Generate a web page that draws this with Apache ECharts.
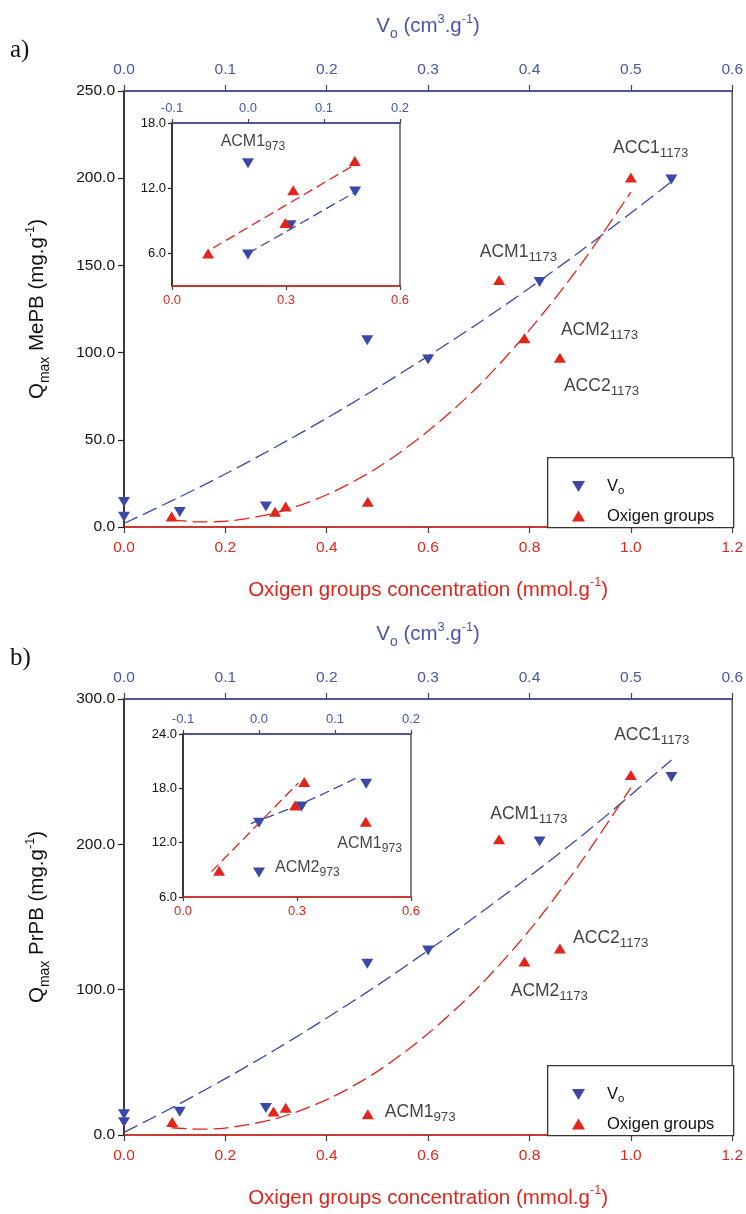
<!DOCTYPE html>
<html>
<head>
<meta charset="utf-8">
<script src="https://cdn.jsdelivr.net/npm/echarts@6/dist/echarts.min.js"></script>
<style>
html,body{margin:0;padding:0;background:#fff;}
#chart{width:746px;height:1214px;}
</style>
</head>
<body>
<div id="chart"></div>
<script>
// ---------------- DATA ----------------
// Panel a (MePB)
const voA   = [0, 0, 0.055, 0.14, 0.24, 0.30, 0.41, 0.54];
const qVoA  = [14.3, 5.9, 8.6, 11.7, 107.1, 96.0, 140.5, 199.2];
const oxA   = [0.094, 0.298, 0.319, 0.481, 0.74, 0.79, 0.86, 1.0];
const qOxA  = [6.0, 8.8, 11.8, 14.5, 141.7, 108.2, 97.1, 200.4];
// fitted curves
const fitVoAx = [0, 0.05, 0.10, 0.15, 0.20, 0.25, 0.30, 0.35, 0.40, 0.45, 0.50, 0.54];
const fitVoAy = [2, 15.8, 30.4, 46, 62.4, 79.8, 98, 117, 137, 158, 180, 198];
const fitOxAx = [0.094, 0.15, 0.2, 0.3, 0.4, 0.5, 0.6, 0.7, 0.8, 0.9, 1.0];
const fitOxAy = [4.1, 2.9, 3.3, 8.2, 18.5, 34, 55, 81, 113, 150, 192];
// inset a
const inVoA  = [0, 0, 0.056, 0.141];
const inQVoA = [14.3, 5.9, 8.6, 11.7];
const inOxA  = [0.095, 0.298, 0.319, 0.481];
const inQOxA = [6.0, 8.8, 11.8, 14.5];
const inFitVoAx = [0.0, 0.14];
const inFitVoAy = [6.0, 11.6];
const inFitOxAx = [0.108, 0.478];
const inFitOxAy = [6.5, 14.1];

// Panel b (PrPB)
const voB   = [0, 0, 0.055, 0.14, 0.24, 0.30, 0.41, 0.54];
const qVoB  = [14.2, 8.7, 16.0, 18.5, 117.9, 127.0, 202.0, 246.3];
const oxB   = [0.095, 0.295, 0.319, 0.481, 0.74, 0.79, 0.86, 1.0];
const qOxB  = [8.9, 16.1, 18.7, 14.3, 203.5, 119.3, 128.4, 247.7];
const fitVoBx = [0, 0.05, 0.10, 0.15, 0.20, 0.25, 0.30, 0.35, 0.40, 0.45, 0.50, 0.54];
const fitVoBy = [1.8, 19.7, 38.8, 59, 80.5, 103, 127, 152, 178, 205, 234, 258];
const fitOxBx = [0.094, 0.15, 0.2, 0.3, 0.4, 0.5, 0.6, 0.7, 0.8, 0.9, 1.0];
const fitOxBy = [5.0, 4.0, 4.8, 11.3, 24.3, 43.8, 69.8, 102, 141, 187, 239];
// inset b
const inVoB  = [0, 0, 0.056, 0.141];
const inQVoB = [14.2, 8.7, 16.0, 18.5];
const inOxB  = [0.095, 0.295, 0.319, 0.481];
const inQOxB = [8.9, 16.1, 18.7, 14.3];
const inFitVoBx = [-0.011, 0.056, 0.127];
const inFitVoBy = [14.1, 16.3, 19.1];
const inFitOxBx = [0.075, 0.3035];
const inFitOxBy = [8.8, 18.6];

// annotation labels (text, subscript, x on bottom axis, y)
const labMainA = ['ACC1', 'ACM1', 'ACM2', 'ACC2'];
const labSubA  = ['1173', '1173', '1173', '1173'];
const labXA    = [0.965, 0.702, 0.862, 0.868];
const labYA    = [217, 157.5, 113, 81];
const labInA   = ['ACM1'];  const labInSubA = ['973'];
const labInXA  = [0.128];   const labInYA = [16.3];

const labMainB = ['ACC1', 'ACM1', 'ACC2', 'ACM2', 'ACM1'];
const labSubB  = ['1173', '1173', '1173', '1173', '973'];
const labXB    = [0.967, 0.7225, 0.886, 0.763, 0.5146];
const labYB    = [275.4, 220.8, 135.4, 99, 15.5];
const labInB   = ['ACM1', 'ACM2']; const labInSubB = ['973', '973'];
const labInXB  = [0.406, 0.242];   const labInYB = [11.9, 9.2];

// tick setups
const mainXBottom = {min: 0, max: 1.2, interval: 0.2};
const mainXTop    = {min: 0, max: 0.6, interval: 0.1};
const insetXBottom= {min: 0, max: 0.6, interval: 0.3};
const insetXTop   = {min: -0.1, max: 0.2, interval: 0.1};
const yA = {min: 0, max: 250, interval: 50};
const yB = {min: 0, max: 300, interval: 100};
const yInA = {min: 3, max: 18, interval: 3, ticks: [6, 12, 18]};
const yInB = {min: 6, max: 24, interval: 6};

// ---------------- STYLE ----------------
const FONT = "'Liberation Sans', Arial, Helvetica, sans-serif";
const BLUE = '#3c48a8';
const BLUE_T = '#4954b2';
const RED = '#e2241b';
const DARK = '#222';
const DOWN = 'path://M0,0L12,0L6,10Z';
const TITLE_SIZE = 20.5;

function fmt1(v){ if (Math.abs(v) < 1e-9) v = 0; return v.toFixed(1); }
function pairs(xs, ys){ return xs.map((x, i) => [x, ys[i]]); }

function titleRich(color, size){
  return {
    t: {fontSize: size, color: color, fontFamily: FONT, lineHeight: size + 8, verticalAlign: 'middle'},
    sub: {fontSize: size * 0.68, color: color, fontFamily: FONT, verticalAlign: 'bottom'},
    sup: {fontSize: size * 0.62, color: color, fontFamily: FONT, verticalAlign: 'top'}
  };
}
function annRich(size){
  return {
    m: {fontSize: size, color: '#111', fontFamily: FONT, lineHeight: size + 6, verticalAlign: 'middle'},
    s: {fontSize: size * 0.76, color: '#111', fontFamily: FONT, verticalAlign: 'bottom'}
  };
}

const grids = [
  {left: 124, top: 91,  width: 609, height: 436},
  {left: 172, top: 123, width: 228, height: 163},
  {left: 124, top: 699, width: 609, height: 436},
  {left: 183, top: 734, width: 228, height: 163}
];
grids.forEach(g => { g.show = true; g.borderColor = '#5a5a5a'; g.borderWidth = 1.5; g.backgroundColor = '#fff'; g.containLabel = false; });

function xAxisDef(gi, pos, range, color, lineColor, fontSize, extra){
  return Object.assign({
    type: 'value', gridIndex: gi, position: pos,
    min: range.min, max: range.max, interval: range.interval,
    axisLine: {show: true, onZero: false, lineStyle: {color: lineColor, width: 1.5}},
    axisTick: {show: true, inside: false, length: gi % 2 ? 4 : 6, lineStyle: {color: '#444', width: 1.2}},
    axisLabel: {show: true, color: color, fontSize: fontSize, fontFamily: FONT, formatter: fmt1, margin: gi % 2 ? 8 : 13},
    splitLine: {show: false}
  }, extra || {});
}
function yAxisDef(gi, range, fontSize, extra){
  const d = {
    type: 'value', gridIndex: gi, position: 'left',
    min: range.min, max: range.max, interval: range.interval,
    axisLine: {show: true, onZero: false, lineStyle: {color: DARK, width: 1.5}},
    axisTick: {show: true, inside: false, length: gi % 2 ? 4 : 6, lineStyle: {color: DARK, width: 1.2}},
    axisLabel: {show: true, color: '#111', fontSize: fontSize, fontFamily: FONT, formatter: fmt1, margin: gi % 2 ? 6 : 9},
    splitLine: {show: false}
  };
  if (range.ticks) {
    d.axisTick.customValues = range.ticks;
    d.axisLabel.customValues = range.ticks;
    d.axisLabel.formatter = v => (range.ticks.indexOf(Math.round(v * 1000) / 1000) >= 0 ? fmt1(v) : '');
  }
  return Object.assign(d, extra || {});
}

const xTitleBottom = '{t|Oxigen groups concentration (mmol.g}{sup|-1}{t|)}';
const xTitleTop = '{t|V}{sub|o}{t| (cm}{sup|3}{t|.g}{sup|-1}{t|)}';

const xAxes = [
  xAxisDef(0, 'bottom', mainXBottom, RED, RED, 15.5, {name: xTitleBottom, nameLocation: 'middle', nameGap: 49, nameTextStyle: {rich: titleRich(RED, TITLE_SIZE)}}),
  xAxisDef(0, 'top', mainXTop, BLUE_T, BLUE, 15.5, {name: xTitleTop, nameLocation: 'middle', nameGap: 50, nameTextStyle: {rich: titleRich(BLUE_T, TITLE_SIZE)}}),
  xAxisDef(1, 'bottom', insetXBottom, RED, RED, 13),
  xAxisDef(1, 'top', insetXTop, BLUE_T, BLUE, 13),
  xAxisDef(2, 'bottom', mainXBottom, RED, RED, 15.5, {name: xTitleBottom, nameLocation: 'middle', nameGap: 49, nameTextStyle: {rich: titleRich(RED, TITLE_SIZE)}}),
  xAxisDef(2, 'top', mainXTop, BLUE_T, BLUE, 15.5, {name: xTitleTop, nameLocation: 'middle', nameGap: 50, nameTextStyle: {rich: titleRich(BLUE_T, TITLE_SIZE)}}),
  xAxisDef(3, 'bottom', insetXBottom, RED, RED, 13),
  xAxisDef(3, 'top', insetXTop, BLUE_T, BLUE, 13)
];
const yAxes = [
  yAxisDef(0, yA, 15.5, {name: '{t|Q}{sub|max}{t| MePB (mg.g}{sup|-1}{t|)}', nameLocation: 'middle', nameGap: 72, nameRotate: 90, nameTextStyle: {rich: titleRich('#111', TITLE_SIZE)}}),
  yAxisDef(1, yInA, 13),
  yAxisDef(2, yB, 15.5, {name: '{t|Q}{sub|max}{t| PrPB (mg.g}{sup|-1}{t|)}', nameLocation: 'middle', nameGap: 72, nameRotate: 90, nameTextStyle: {rich: titleRich('#111', TITLE_SIZE)}}),
  yAxisDef(3, yInB, 13)
];

function scatter(name, xi, yi, sym, color, data){
  return {type: 'scatter', name: name, xAxisIndex: xi, yAxisIndex: yi, symbol: sym, symbolSize: [12, 10],
    itemStyle: {color: color, opacity: 1}, data: data, z: 5, silent: true};
}
function fitLine(name, xi, yi, color, data, dash){
  return {type: 'line', name: name, xAxisIndex: xi, yAxisIndex: yi, data: data, smooth: 0.3,
    symbol: 'none', showSymbol: false, silent: true, z: 3,
    lineStyle: {color: color, width: 1.3, type: dash}};
}
function labels(xi, yi, mains, subs, xs, ys, size){
  return {type: 'scatter', name: 'lab', xAxisIndex: xi, yAxisIndex: yi, symbolSize: 0, silent: true, z: 6,
    label: {show: true, position: [0, 0], align: 'left', verticalAlign: 'middle',
      formatter: p => '{m|' + p.data.main + '}{s|' + p.data.sub + '}', rich: annRich(size)},
    data: mains.map((m, i) => ({value: [xs[i], ys[i]], main: m, sub: subs[i]}))};
}

const series = [
  // panel a main
  fitLine('fitVoA', 1, 0, BLUE, pairs(fitVoAx, fitVoAy), [15, 6]),
  fitLine('fitOxA', 0, 0, RED, pairs(fitOxAx, fitOxAy), [15, 6]),
  scatter('Vo', 1, 0, DOWN, BLUE, pairs(voA, qVoA)),
  scatter('Oxigen groups', 0, 0, 'triangle', RED, pairs(oxA, qOxA)),
  labels(0, 0, labMainA, labSubA, labXA, labYA, 17.5),
  // inset a
  fitLine('inFitVoA', 3, 1, BLUE, pairs(inFitVoAx, inFitVoAy), [10, 5]),
  fitLine('inFitOxA', 2, 1, RED, pairs(inFitOxAx, inFitOxAy), [10, 5]),
  scatter('Vo', 3, 1, DOWN, BLUE, pairs(inVoA, inQVoA)),
  scatter('Oxigen groups', 2, 1, 'triangle', RED, pairs(inOxA, inQOxA)),
  labels(2, 1, labInA, labInSubA, labInXA, labInYA, 16),
  // panel b main
  fitLine('fitVoB', 5, 2, BLUE, pairs(fitVoBx, fitVoBy), [15, 6]),
  fitLine('fitOxB', 4, 2, RED, pairs(fitOxBx, fitOxBy), [15, 6]),
  scatter('Vo', 5, 2, DOWN, BLUE, pairs(voB, qVoB)),
  scatter('Oxigen groups', 4, 2, 'triangle', RED, pairs(oxB, qOxB)),
  labels(4, 2, labMainB, labSubB, labXB, labYB, 17.5),
  // inset b
  fitLine('inFitVoB', 7, 3, BLUE, pairs(inFitVoBx, inFitVoBy), [10, 5]),
  fitLine('inFitOxB', 6, 3, RED, pairs(inFitOxBx, inFitOxBy), [10, 5]),
  scatter('Vo', 7, 3, DOWN, BLUE, pairs(inVoB, inQVoB)),
  scatter('Oxigen groups', 6, 3, 'triangle', RED, pairs(inOxB, inQOxB)),
  labels(6, 3, labInB, labInSubB, labInXB, labInYB, 16)
];

const legendRich = {
  n: {fontSize: 16.5, color: '#111', fontFamily: FONT, padding: [0, 0, 0, 17], lineHeight: 20, verticalAlign: 'middle'},
  s: {fontSize: 11.5, color: '#111', fontFamily: FONT, verticalAlign: 'bottom'}
};
function legendDef(top){
  return {
    orient: 'vertical', left: 572, top: top, itemWidth: 13, itemHeight: 11, itemGap: 11,
    padding: 0, selectedMode: false,
    data: [{name: 'Vo', icon: DOWN}, {name: 'Oxigen groups', icon: 'triangle'}],
    formatter: n => n === 'Vo' ? '{n|V}{s|o}' : '{n|Oxigen groups}',
    textStyle: {rich: legendRich}
  };
}

const option = {
  animation: false,
  backgroundColor: '#fff',
  textStyle: {fontFamily: FONT},
  grid: grids,
  xAxis: xAxes,
  yAxis: yAxes,
  legend: [legendDef(478), legendDef(478 + 608)],
  series: series,
  graphic: [
    {type: 'rect', left: 547, top: 457, shape: {width: 186, height: 70}, style: {fill: '#fff', stroke: '#333', lineWidth: 1.3}, z: 4},
    {type: 'rect', left: 547, top: 1065, shape: {width: 186, height: 70}, style: {fill: '#fff', stroke: '#333', lineWidth: 1.3}, z: 4},
    {type: 'text', left: 10, top: 38, style: {text: 'a)', font: "25px 'Liberation Serif', 'Times New Roman', serif", fill: '#111'}},
    {type: 'text', left: 10, top: 646, style: {text: 'b)', font: "25px 'Liberation Serif', 'Times New Roman', serif", fill: '#111'}}
  ]
};

const chart = echarts.init(document.getElementById('chart'), null, {renderer: 'canvas'});
chart.setOption(option);
</script>
</body>
</html>
